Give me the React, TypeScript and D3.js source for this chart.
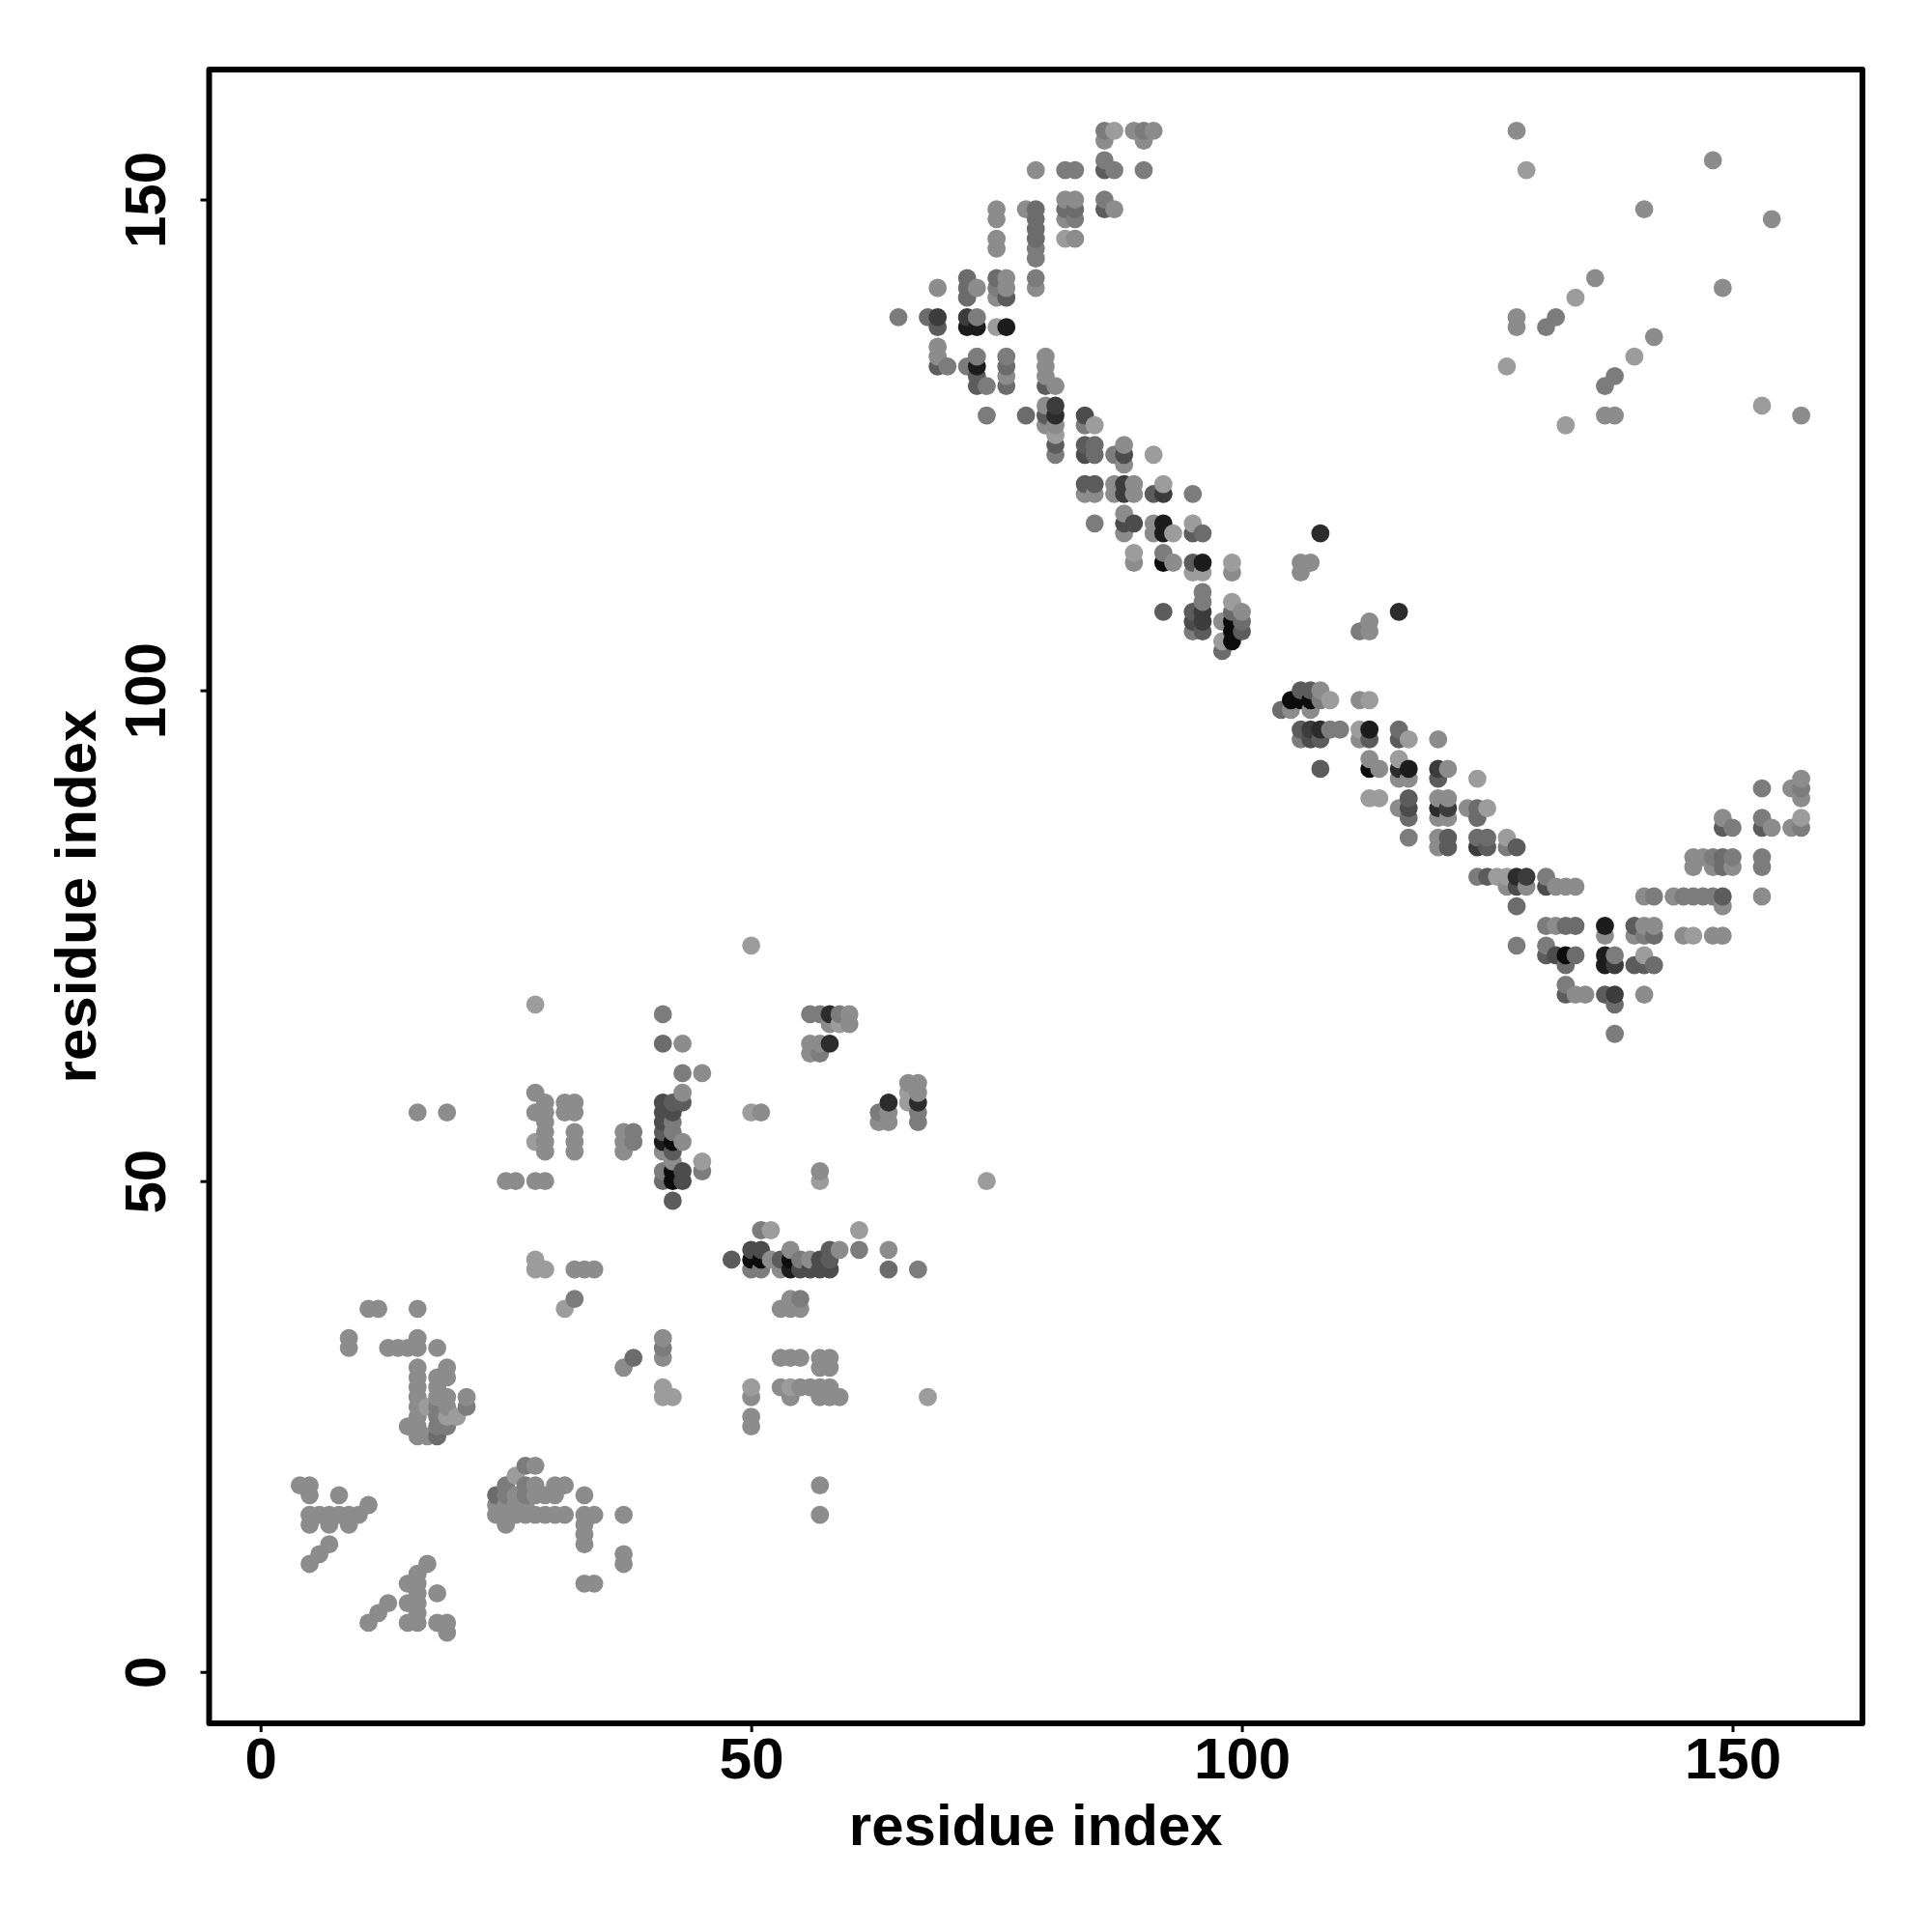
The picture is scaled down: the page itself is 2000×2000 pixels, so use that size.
import React, { useEffect, useRef } from 'react';
import * as d3 from 'd3';

// [residue x, residue y, contact score 0 (light) .. 9 (black)]
type Contact = [number, number, number];

const residueRange = [1, 157];
const tickValues = [0, 50, 100, 150];
const axisLabel = "residue index";

const nTerminalContacts: Contact[] = [
  [4,19,1],[5,19,1],[5,18,1],[8,18,1],[11,17,1],
  [5,16,1],[6,16,1],[7,16,1],[8,16,1],[9,16,1],[10,16,1],
  [5,15,1],[7,15,1],[9,15,1],[7,13,1],[6,12,1],[5,11,1],
  [17,11,1],[16,10,1],[15,9,1],[16,9,1],[16,8,1],[18,8,1],
  [13,7,1],[15,7,1],[16,7,1],[12,6,1],[16,6,1],
  [11,5,1],[15,5,1],[16,5,1],[18,5,1],[19,5,1],[19,4,1],
  [27,21,2],[28,21,1],[26,20,0],
  [25,19,2],[27,19,2],[28,19,1],[30,19,1],[31,19,1],
  [24,18,3],[25,18,2],[26,18,1],[27,18,2],[28,18,1],[29,18,1],[30,18,1],[33,18,1],
  [24,17,1],[25,17,1],[26,17,1],[27,17,1],
  [24,16,1],[25,16,1],[26,16,1],[27,16,1],[28,16,1],[29,16,1],[30,16,1],[31,16,1],[33,16,1],[34,16,1],[37,16,1],
  [25,15,1],[33,15,1],[33,14,1],[33,13,1],[37,12,1],[37,11,1],[33,9,1],[34,9,1],
  [11,37,1],[12,37,1],[16,37,1],[9,34,1],[16,34,1],
  [9,33,1],[13,33,1],[14,33,1],[15,33,1],[16,33,1],[18,33,1],
  [16,31,1],[19,31,1],[16,30,1],[18,30,1],[19,30,1],[16,29,1],[18,29,1],
  [16,28,1],[18,28,1],[19,28,1],[21,28,1],
  [16,27,1],[17,27,0],[18,27,2],[19,27,1],[21,27,2],
  [16,26,1],[18,26,2],[19,26,0],[20,26,0],
  [15,25,1],[16,25,1],[18,25,2],[19,25,2],
  [16,24,1],[17,24,1],[18,24,3],
];

const middleContacts: Contact[] = [
  [28,68,0],[41,67,2],[41,64,3],[43,64,1],[43,61,2],[45,61,1],[28,59,1],[43,59,1],
  [29,58,1],[31,58,1],[32,58,1],[41,58,5],[42,58,4],[43,58,4],
  [16,57,1],[19,57,1],[28,57,1],[29,57,1],[31,57,1],[32,57,1],[41,57,5],[42,57,5],
  [29,56,1],[41,56,5],[42,56,2],
  [29,55,1],[32,55,1],[37,55,1],[38,55,2],[41,55,4],[42,55,2],
  [28,54,0],[29,54,1],[32,54,1],[37,54,1],[38,54,2],[41,54,8],[42,54,9],[43,54,1],
  [29,53,1],[32,53,1],[37,53,1],[41,53,1],[42,53,4],
  [42,52,1],[45,52,0],[41,51,2],[42,51,9],[43,51,5],[45,51,2],
  [25,50,1],[26,50,1],[28,50,1],[29,50,1],[41,50,3],[42,50,9],[43,50,5],
  [42,48,4],[28,42,0],
  [28,41,0],[29,41,0],[32,41,1],[33,41,1],[34,41,1],
  [32,38,2],[31,37,0],[41,34,1],[41,33,2],[38,32,3],[41,32,1],[37,31,1],[41,29,0],[41,28,0],[42,28,0],
  [50,74,0],
  [56,67,2],[57,67,2],[58,67,7],[59,67,2],[60,67,1],[58,66,1],[59,66,0],[60,66,1],
  [56,64,1],[57,64,1],[58,64,7],[56,63,1],[57,63,2],
  [66,60,1],[67,60,1],[66,59,0],[67,59,1],[64,58,7],[66,58,0],[67,58,7],
  [50,57,0],[51,57,1],[63,57,2],[64,57,1],[67,57,2],[63,56,1],[64,56,1],[67,56,2],
  [57,51,1],[57,50,0],[74,50,0],
  [51,45,2],[52,45,0],[61,45,0],
  [50,43,5],[51,43,5],[54,43,1],[58,43,4],[59,43,1],[61,43,2],[64,43,1],
  [48,42,4],[50,42,9],[51,42,9],[52,42,1],[53,42,4],[54,42,9],[55,42,2],[56,42,1],[57,42,5],[58,42,4],
  [50,41,2],[51,41,2],[53,41,1],[54,41,8],[55,41,5],[56,41,5],[57,41,5],[58,41,5],[64,41,3],[67,41,2],
  [54,38,1],[55,38,2],[53,37,1],[54,37,1],[55,37,1],
  [53,32,1],[54,32,1],[55,32,1],[57,32,1],[58,32,1],[57,31,1],[58,31,1],
  [50,29,0],[53,29,1],[54,29,0],[55,29,1],[56,29,1],[57,29,1],[58,29,1],
  [50,28,1],[54,28,1],[57,28,1],[58,28,1],[59,28,1],[68,28,0],
  [50,26,1],[50,25,1],[57,19,1],[57,16,1],
];

const upperContacts: Contact[] = [
  [86,157,2],[87,157,0],[89,157,1],[90,157,2],[91,157,1],[86,156,1],[90,156,1],[86,154,2],
  [79,153,1],[82,153,2],[83,153,2],[86,153,4],[87,153,2],[90,153,2],
  [82,150,1],[83,150,1],[86,150,2],
  [75,149,1],[78,149,1],[79,149,3],[82,149,3],[83,149,3],[86,149,4],[87,149,1],
  [75,148,1],[79,148,3],[82,148,1],[83,148,2],[79,147,3],
  [75,146,1],[79,146,3],[82,146,0],[83,146,1],[75,145,1],[79,145,2],[79,144,2],
  [72,142,3],[75,142,3],[76,142,1],[79,142,2],
  [69,141,1],[72,141,3],[73,141,1],[75,141,2],[76,141,1],[79,141,1],
  [72,140,3],[75,140,1],[76,140,4],
  [65,138,2],[68,138,3],[69,138,6],[72,138,6],[73,138,2],
  [69,137,4],[72,137,8],[73,137,8],[75,137,0],[76,137,8],
  [69,135,1],[69,134,1],[73,134,2],[76,134,2],[80,134,1],
  [69,133,4],[70,133,2],[72,133,2],[73,133,8],[76,133,3],[80,133,1],
  [73,132,4],[76,132,1],[80,132,1],
  [73,131,4],[74,131,2],[76,131,3],[80,131,4],[81,131,1],
  [80,129,1],[81,129,6],
  [74,128,2],[78,128,3],[80,128,4],[81,128,7],[84,128,5],
  [80,127,1],[81,127,1],[84,127,2],[85,127,0],[81,126,0],
  [81,125,4],[84,125,4],[85,125,3],[88,125,1],
  [81,124,2],[84,124,5],[85,124,3],[87,124,2],[88,124,5],[91,124,0],[88,123,1],
  [84,121,4],[85,121,4],[87,121,1],[88,121,6],[89,121,1],[92,121,0],
  [84,120,1],[85,120,1],[87,120,1],[88,120,6],[89,120,1],[91,120,4],[92,120,6],[95,120,2],
  [88,118,1],[85,117,2],[88,117,5],[89,117,5],[91,117,1],[92,117,8],[95,117,0],
  [88,116,1],[91,116,1],[92,116,8],[93,116,0],[95,116,4],[96,116,3],[108,116,7],
  [89,114,0],[92,114,2],
  [89,113,1],[92,113,9],[93,113,1],[95,113,4],[96,113,8],[99,113,0],[106,113,1],[107,113,1],
  [95,112,0],[96,112,0],[99,112,1],[106,112,1],
  [96,110,2],[96,109,2],[99,109,0],
  [92,108,4],[95,108,4],[96,108,6],[99,108,3],[100,108,1],[116,108,7],
  [95,107,5],[96,107,6],[98,107,1],[99,107,9],[100,107,3],[113,107,1],
  [95,106,2],[96,106,4],[99,106,9],[100,106,4],[112,106,2],[113,106,1],
  [98,105,0],[99,105,9],[98,104,3],
];

const lowerArmContacts: Contact[] = [
  [106,100,4],[107,100,4],[108,100,1],
  [105,99,9],[106,99,9],[107,99,9],[108,99,2],[109,99,0],[112,99,1],[113,99,0],
  [104,98,3],[105,98,1],[107,98,1],
  [106,96,4],[107,96,6],[108,96,7],[109,96,2],[110,96,2],[112,96,0],[113,96,8],[116,96,3],
  [106,95,2],[107,95,5],[108,95,4],[112,95,1],[113,95,4],[116,95,4],[117,95,0],[120,95,1],
  [113,93,1],[116,93,0],
  [108,92,4],[113,92,9],[114,92,1],[116,92,7],[117,92,8],[120,92,6],[121,92,1],
  [116,91,1],[117,91,1],[120,91,4],[124,91,0],
  [113,89,0],[114,89,0],[117,89,4],[120,89,1],[121,89,1],
  [116,88,1],[117,88,5],[120,88,7],[121,88,6],[123,88,1],[124,88,3],[125,88,0],
  [117,87,3],[120,87,1],[121,87,1],[124,87,3],
  [117,85,2],[120,85,1],[121,85,4],[124,85,3],[125,85,3],[127,85,0],
  [120,84,1],[121,84,4],[124,84,6],[125,84,4],[127,84,2],[128,84,4],
  [124,81,2],[125,81,4],[126,81,0],[127,81,0],[128,81,7],[129,81,6],[131,81,2],
  [127,80,1],[128,80,5],[129,80,1],[131,80,5],[132,80,1],[133,80,1],[134,80,1],
  [128,78,3],
  [131,76,2],[132,76,1],[133,76,3],[134,76,3],[137,76,8],[140,76,4],[141,76,1],[142,76,1],
  [137,75,1],[140,75,1],[141,75,2],[142,75,3],[145,75,1],[146,75,0],[148,75,1],[149,75,1],
  [128,74,2],[131,74,2],
  [131,73,4],[132,73,5],[133,73,9],[134,73,3],[137,73,8],[138,73,2],[141,73,0],
  [133,72,3],[137,72,8],[138,72,6],[140,72,4],[141,72,4],[142,72,3],
  [133,70,2],[133,69,4],[134,69,1],[135,69,1],[137,69,4],[138,69,6],[141,69,1],
  [138,68,3],[138,65,2],
  [157,91,1],[153,90,2],[156,90,1],[157,90,2],[157,89,1],
  [149,87,1],[153,87,2],[157,87,0],
  [149,86,4],[150,86,2],[153,86,4],[154,86,1],[156,86,1],[157,86,2],
  [146,83,1],[147,83,1],[148,83,2],[149,83,3],[150,83,2],[153,83,2],
  [146,82,1],[148,82,1],[149,82,3],[150,82,1],[153,82,2],
  [141,79,1],[142,79,2],[144,79,1],[145,79,2],[146,79,2],[147,79,2],[148,79,2],[149,79,4],[153,79,1],
  [149,78,1],
];

const farContacts: Contact[] = [
  [128,157,1],[129,153,0],[148,154,1],[141,149,1],[154,148,1],[149,141,1],
  [136,142,1],[134,140,0],[132,138,2],[131,137,2],[128,138,1],[128,137,1],[127,133,0],
  [142,136,1],[140,134,0],[138,132,2],[137,131,2],[137,128,1],[138,128,1],
  [133,127,0],[153,129,0],[157,128,1],
];

const allContacts = [...nTerminalContacts, ...middleContacts, ...upperContacts, ...lowerArmContacts, ...farContacts];

const App: React.FC = () => {
  const chartRef = useRef<SVGSVGElement | null>(null);

  useEffect(() => {
    const svg = d3.select(chartRef.current);
    svg.selectAll("*").remove();

    const left = 216.5, right = 1928, top = 72, bottom = 1784;
    const pad = (residueRange[1] - residueRange[0]) * 0.04;
    const domain = [residueRange[0] - pad, residueRange[1] + pad];

    const x = d3.scaleLinear().domain(domain).range([left, right]);
    const y = d3.scaleLinear().domain(domain).range([bottom, top]);
    const shade = d3.scaleLinear<string>().domain([0, 9]).range(["#9c9c9c", "#0c0c0c"]);

    // points go down column by column, so higher residues sit on top
    const sorted = d3.sort(allContacts, d => d[0], d => d[1]);

    svg.append("g")
      .selectAll("circle")
      .data(sorted)
      .join("circle")
      .attr("cx", d => x(d[0]))
      .attr("cy", d => y(d[1]))
      .attr("r", 9.4)
      .attr("fill", d => shade(d[2]));

    const xAxis = svg.append("g")
      .attr("transform", `translate(0,${bottom})`)
      .call(d3.axisBottom(x).tickValues(tickValues).tickFormat(d3.format("d")).tickSize(9).tickPadding(6));
    xAxis.select(".domain").remove();
    xAxis.selectAll("line").attr("stroke", "#000").attr("stroke-width", 3);
    xAxis.selectAll("text")
      .attr("y", 57)
      .attr("dy", 0)
      .attr("font-size", 60)
      .attr("font-weight", "bold")
      .attr("font-family", "'Liberation Sans', sans-serif");

    const yAxis = svg.append("g")
      .attr("transform", `translate(${left},0)`)
      .call(d3.axisLeft(y).tickValues(tickValues).tickFormat(d3.format("d")).tickSize(9));
    yAxis.select(".domain").remove();
    yAxis.selectAll("line").attr("stroke", "#000").attr("stroke-width", 3);
    yAxis.selectAll("text")
      .attr("x", 0)
      .attr("dy", 0)
      .attr("transform", "translate(-45.5,0) rotate(-90)")
      .attr("text-anchor", "middle")
      .attr("font-size", 60)
      .attr("font-weight", "bold")
      .attr("font-family", "'Liberation Sans', sans-serif");

    svg.append("rect")
      .attr("x", left)
      .attr("y", top)
      .attr("width", right - left)
      .attr("height", bottom - top)
      .attr("fill", "none")
      .attr("stroke", "#000")
      .attr("stroke-width", 6)
      .attr("stroke-linejoin", "round");

    svg.append("text")
      .attr("x", (left + right) / 2)
      .attr("y", 1910)
      .attr("text-anchor", "middle")
      .attr("font-size", 60)
      .attr("font-weight", "bold")
      .attr("font-family", "'Liberation Sans', sans-serif")
      .text(axisLabel);

    svg.append("text")
      .attr("transform", `translate(99,${(top + bottom) / 2}) rotate(-90)`)
      .attr("text-anchor", "middle")
      .attr("font-size", 60)
      .attr("font-weight", "bold")
      .attr("font-family", "'Liberation Sans', sans-serif")
      .text(axisLabel);
  }, []);

  return (
    <svg
      ref={chartRef}
      width={2000}
      height={2000}
      style={{ position: "absolute", left: 0, top: 0, background: "#fff" }}
    />
  );
};

export default App;
